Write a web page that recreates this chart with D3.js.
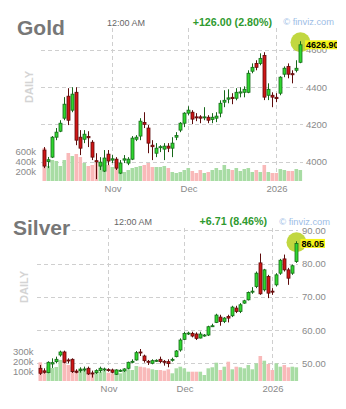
<!DOCTYPE html>
<html><head><meta charset="utf-8">
<script src="https://cdn.jsdelivr.net/npm/d3@7"></script>
<style>body{margin:0;background:#fff}svg{display:block;font-family:"Liberation Sans",Arial,sans-serif}</style>
</head><body><svg id="c" width="346" height="409"></svg>
<script>
// ---------- DATA ----------
const monthIdx = [17, 36, 58];
const monthLabels = ["Nov", "Dec", "2026"];

const goldOpen  = [4062,4000,4024,4131,4163,4233,4351,4276,4372,4131,4120,4135,4104,4005,3976,3949,4040,4008,4013,3938,4008,3992,4013,4120,4137,4210,4180,4088,4045,4075,4067,4083,4072,4131,4169,4206,4260,4265,4240,4240,4236,4238,4226,4233,4260,4319,4335,4345,4340,4368,4372,4372,4485,4527,4527,4570,4356,4356,4345,4367,4469,4511,4472,4490,4533];
const goldHigh  = [4078,4025,4137,4180,4222,4346,4394,4399,4399,4169,4169,4163,4115,4045,4024,4062,4062,4035,4024,4008,4035,4024,4137,4142,4233,4265,4196,4115,4099,4088,4099,4099,4131,4158,4212,4265,4297,4276,4260,4249,4292,4249,4260,4265,4329,4383,4388,4367,4394,4399,4404,4490,4527,4544,4581,4587,4420,4372,4367,4458,4511,4527,4490,4544,4646];
const goldLow   = [3965,3965,4019,4115,4158,4222,4196,4265,4088,4035,4099,4078,4008,3906,3955,3944,3981,3992,3955,3933,3992,3981,4008,4110,4115,4180,4045,4008,4024,4051,4008,4051,4024,4115,4158,4185,4249,4201,4217,4206,4222,4206,4206,4212,4238,4292,4313,4308,4329,4345,4345,4367,4474,4490,4517,4330,4330,4292,4319,4356,4453,4447,4420,4479,4528];
const goldClose = [3976,4010,4131,4158,4206,4308,4222,4362,4115,4072,4147,4128,4024,3998,3997,4019,4003,4015,3965,3992,4015,4013,4126,4131,4217,4200,4099,4080,4072,4080,4083,4072,4099,4140,4206,4260,4276,4228,4236,4233,4240,4222,4238,4244,4313,4329,4342,4338,4372,4374,4388,4474,4506,4506,4554,4346,4388,4346,4338,4453,4501,4469,4466,4500.9,4626.9];
const goldVolK  = [660,300,420,400,300,420,560,500,540,480,360,300,320,360,380,360,320,280,260,220,180,220,260,280,300,320,360,280,280,280,300,260,180,160,180,220,260,200,160,220,160,180,220,260,220,320,240,220,260,200,240,260,180,220,180,320,180,160,160,240,220,200,200,240,220];
const goldPriceTicks = [4000, 4200, 4400, 4600];
const goldVolTicks = [200, 400, 600];

const silverOpen  = [48.5,47.7,47.2,49.8,50.5,52.5,53.4,51.0,51.2,47.6,47.9,48.1,48.5,47.1,47.2,47.8,48.1,48.1,48.0,46.7,47.7,47.7,48.5,50.4,51.0,53.4,52.2,50.6,50.0,50.7,51.2,50.6,50.5,50.9,52.0,54.0,57.2,58.9,59.0,58.8,57.6,58.3,58.5,61.1,62.3,63.9,62.6,64.1,64.3,66.6,65.6,68.1,69.1,71.5,73.1,80.2,72.1,76.1,71.7,73.6,77.1,81.4,78.1,77.1,80.6];
const silverHigh  = [49.5,48.5,50.6,51.5,52.0,53.8,53.8,51.5,51.5,48.2,48.8,49.0,49.0,47.8,48.2,49.0,48.7,48.5,48.4,48.2,48.2,48.5,50.5,51.2,53.7,54.3,52.6,51.0,51.2,51.2,52.0,51.0,51.2,51.7,54.0,57.5,59.5,59.5,59.5,59.3,59.5,58.8,61.3,61.9,64.9,64.6,63.9,64.6,67.3,67.3,68.1,69.1,71.6,72.9,77.6,83.0,78.4,76.6,72.6,77.1,81.4,82.7,78.7,79.7,86.7];
const silverLow   = [46.5,46.9,47.0,48.6,50.0,52.0,50.0,50.0,47.1,47.0,47.2,47.5,46.5,45.7,46.8,47.2,47.6,47.5,47.0,46.5,47.4,47.4,48.2,50.0,50.8,52.2,50.2,49.5,49.7,50.4,50.0,49.3,48.8,50.5,51.8,53.5,57.0,58.5,57.8,57.0,57.5,58.0,58.2,60.9,62.1,61.3,62.1,62.3,63.9,65.1,65.1,67.9,68.9,70.9,72.6,70.6,71.6,69.6,70.6,73.1,76.6,77.6,73.6,76.6,80.2];
const silverClose = [47.0,47.3,50.3,50.2,51.2,53.4,50.3,50.7,47.5,47.4,48.1,48.3,46.8,46.9,47.8,48.5,48.3,47.9,47.3,48.0,47.9,48.3,50.3,50.6,53.2,53.2,50.8,50.4,50.8,50.9,50.5,50.4,49.9,51.2,53.7,57.0,59.0,59.1,58.2,57.5,58.8,58.5,61.0,61.3,64.5,62.6,63.6,63.6,66.9,65.6,67.6,68.8,71.3,71.7,77.1,70.9,78.1,71.1,71.5,76.6,81.0,78.1,75.6,79.34,86.05];
const silverVolK  = [187,110,143,130,140,210,293,160,143,110,130,110,110,70,83,93,103,83,77,83,77,93,117,110,150,143,137,127,117,110,110,103,117,77,127,143,127,93,93,93,93,60,127,137,183,110,143,193,117,143,137,127,160,117,177,250,203,170,110,177,143,160,137,143,137];
const silverPriceTicks = [50, 60, 70, 80, 90];
const silverVolTicks = [100, 200, 300];

// ---------- DRAW ----------
const svg = d3.select("#c");
const FONT = '"Liberation Sans",Arial,sans-serif';

function panel(cfg) {
  const g = svg.append("g");
  const n = cfg.open.length;
  const x = d3.scaleLinear().domain([0, n - 1]).range(cfg.xRange);
  const y = d3.scaleLinear().domain(cfg.yDomain).range(cfg.yRange);
  const v = d3.scaleLinear().domain([0, 1000]).range([cfg.volBase, cfg.volBase - cfg.volPx1000]);

  // horizontal grid
  g.append("g").selectAll("line").data(cfg.priceTicks).join("line")
    .attr("x1", cfg.left).attr("x2", cfg.right)
    .attr("y1", d => Math.round(y(d)) + 0.5).attr("y2", d => Math.round(y(d)) + 0.5)
    .attr("stroke", "#cfcfcf").attr("stroke-dasharray", "4,3");
  // vertical grid
  g.append("g").selectAll("line").data(monthIdx).join("line")
    .attr("x1", d => x(d)).attr("x2", d => x(d))
    .attr("y1", cfg.gridTop).attr("y2", cfg.volBase)
    .attr("stroke", "#cfcfcf").attr("stroke-dasharray", "4,3");

  // title with white background
  const t = g.append("text").attr("x", cfg.titleX).attr("y", cfg.titleY)
    .attr("font-size", 21).attr("font-weight", "bold").attr("fill", "#777").text(cfg.title);
  const bb = t.node().getBBox();
  g.insert("rect", "text").attr("x", bb.x - 1).attr("y", bb.y).attr("width", bb.width + 2).attr("height", bb.height).attr("fill", "#fff");

  // DAILY
  g.append("text").attr("transform", `translate(${cfg.dailyX},${cfg.dailyY}) rotate(-90)`)
    .attr("text-anchor", "middle").attr("font-size", 11).attr("font-weight", "bold")
    .attr("fill", "#d4d4d4").text("DAILY");

  // time, change, watermark
  g.append("text").attr("x", cfg.timeX).attr("y", cfg.headY).attr("font-size", 9).attr("fill", "#666").text("12:00 AM");
  g.append("text").attr("x", cfg.changeX).attr("y", cfg.headY).attr("text-anchor", "end")
    .attr("font-size", 10.7).attr("font-weight", "bold").attr("fill", "#2f9a2f").text(cfg.change);
  g.append("text").attr("x", cfg.wmX).attr("y", cfg.headY - 0.5).attr("text-anchor", "end")
    .attr("font-size", 9.3).attr("fill", "#9dbde6").text("\u00a9 finviz.com");

  // volume bars
  const idx = d3.range(n);
  g.append("g").selectAll("rect").data(idx).join("rect")
    .attr("x", i => x(i) - 2).attr("width", 3.6)
    .attr("y", i => v(cfg.vol[i])).attr("height", i => cfg.volBase - v(cfg.vol[i]))
    .attr("fill", i => cfg.close[i] >= cfg.open[i] ? "#a8dca4" : "#f9b9b9");

  // price axis
  const ay = g.append("g").attr("transform", `translate(${cfg.right},0)`)
    .call(d3.axisRight(y).tickValues(cfg.priceTicks).tickSize(0).tickPadding(cfg.priceTickPad).tickFormat(cfg.priceFmt));
  ay.select(".domain").remove();
  ay.selectAll("text").attr("font-size", 9.5).attr("fill", "#8a8a8a").attr("font-family", FONT);

  // volume axis
  const av = g.append("g").attr("transform", `translate(${cfg.volLabelX},0)`)
    .call(d3.axisLeft(v).tickValues(cfg.volTicks).tickSize(0).tickPadding(0).tickFormat(d => d + "k"));
  av.select(".domain").remove();
  av.selectAll("text").attr("font-size", 9.5).attr("fill", "#8a8a8a").attr("font-family", FONT);

  // month axis
  const ax = g.append("g").attr("transform", `translate(0,${cfg.volBase})`)
    .call(d3.axisBottom(x).tickValues(monthIdx).tickSize(0).tickPadding(4).tickFormat((d, i) => monthLabels[i]));
  ax.select(".domain").remove();
  ax.selectAll("text").attr("font-size", 9.5).attr("fill", "#8a8a8a").attr("font-family", FONT);

  // highlight circle at last candle
  const last = n - 1;
  g.append("circle").attr("cx", x(last)).attr("cy", y(cfg.high[last]) + 1).attr("r", 10)
    .attr("fill", "#b6d01f").attr("fill-opacity", 0.85);

  // candles
  const c = g.append("g").selectAll("g").data(idx).join("g");
  const up = i => cfg.close[i] >= cfg.open[i];
  c.append("line")
    .attr("x1", i => x(i)).attr("x2", i => x(i))
    .attr("y1", i => y(cfg.high[i])).attr("y2", i => y(cfg.low[i]))
    .attr("stroke", i => up(i) ? "#17691a" : "#5e0c0c").attr("stroke-width", 1);
  c.append("rect")
    .attr("x", i => x(i) - 1.5).attr("width", 3)
    .attr("y", i => y(Math.max(cfg.open[i], cfg.close[i])))
    .attr("height", i => Math.max(1, Math.abs(y(cfg.open[i]) - y(cfg.close[i]))))
    .attr("fill", i => up(i) ? "#2fd62f" : "#d01616")
    .attr("stroke", i => up(i) ? "#17691a" : "#5e0c0c").attr("stroke-width", 0.8);

  // last price label
  const clipId = "clip" + cfg.title;
  svg.append("clipPath").attr("id", clipId).append("rect").attr("x", 0).attr("y", 0).attr("width", cfg.clipW).attr("height", 409);
  const lg = g.append("g").attr("clip-path", `url(#${clipId})`);
  const ly = y(cfg.close[last]);
  const lt = lg.append("text").attr("x", cfg.labelX + 1).attr("y", ly).attr("dy", "0.35em")
    .attr("font-size", 9).attr("font-weight", "bold").attr("fill", "#000").text(cfg.labelText);
  const lb = lt.node().getBBox();
  lg.insert("rect", "text").attr("x", cfg.labelX).attr("y", ly - 4.5).attr("width", lb.width + 2).attr("height", 9).attr("fill", "#f3f318");
}

panel({
  title: "Gold", open: goldOpen, high: goldHigh, low: goldLow, close: goldClose, vol: goldVolK,
  xRange: [44.5, 300.5], yDomain: [4000, 4600], yRange: [161.6, 49.8],
  volBase: 181, volPx1000: 50, left: 41, right: 303, gridTop: 28,
  priceTicks: goldPriceTicks, priceFmt: d3.format("d"), priceTickPad: 3, volTicks: goldVolTicks, volLabelX: 36,
  titleX: 17, titleY: 35, dailyX: 33, dailyY: 87, timeX: 107, headY: 25.5,
  change: "+126.00 (2.80%)", changeX: 272, wmX: 334,
  labelX: 305, labelText: "4626.90", clipW: 337
});
panel({
  title: "Silver", open: silverOpen, high: silverHigh, low: silverLow, close: silverClose, vol: silverVolK,
  xRange: [40.5, 296.5], yDomain: [50, 90], yRange: [363.3, 230.3],
  volBase: 381, volPx1000: 100, left: 37, right: 298, gridTop: 228,
  priceTicks: silverPriceTicks, priceFmt: d3.format(".2f"), priceTickPad: 4, volTicks: silverVolTicks, volLabelX: 33.5,
  titleX: 13, titleY: 235, dailyX: 28, dailyY: 287, timeX: 114, headY: 225,
  change: "+6.71 (8.46%)", changeX: 267, wmX: 330,
  labelX: 300.5, labelText: "86.05", clipW: 346
});
</script>
</body></html>
